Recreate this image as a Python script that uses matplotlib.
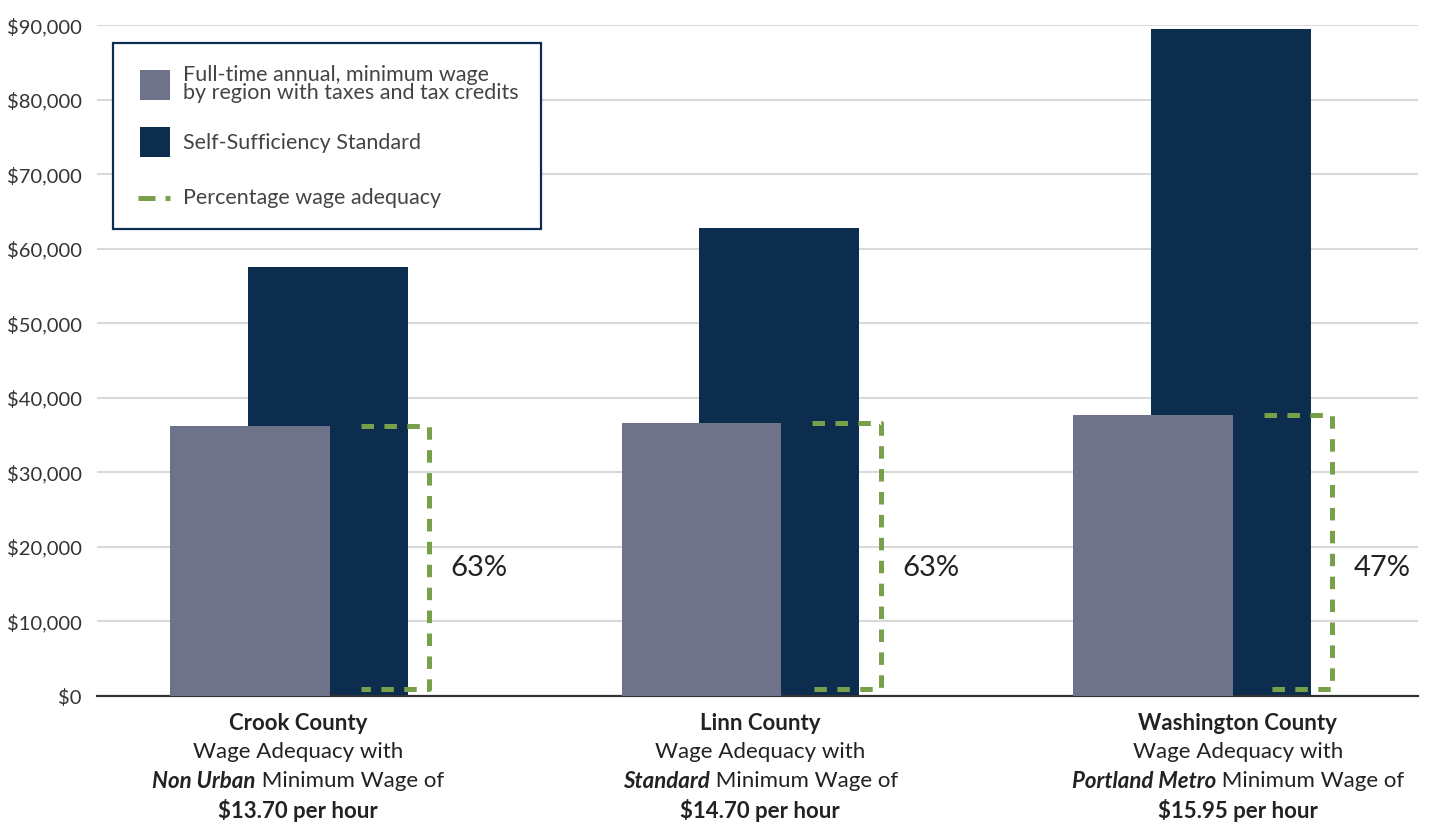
import numpy as np
import matplotlib
matplotlib.use('Agg')
import matplotlib.pyplot as plt
from matplotlib.patches import Rectangle
from matplotlib.lines import Line2D
from matplotlib.ticker import FuncFormatter, MultipleLocator

# data
counties = ['Crook County', 'Linn County', 'Washington County']
region_type = ['Non Urban', 'Standard', 'Portland Metro']
hourly_wage = ['$13.70 per hour', '$14.70 per hour', '$15.95 per hour']
min_wage_annual = [36200, 36600, 37700]
self_sufficiency = [57600, 62800, 89500]
adequacy_labels = ['63%', '63%', '47%']

GRAY = '#6e7389'
NAVY = '#0c2d4e'
GREEN = '#78a04b'
TXT = '#333333'

plt.rcParams['font.family'] = ['Lato', 'DejaVu Sans']

W, H = 1429, 825
fig = plt.figure(figsize=(W / 100, H / 100), dpi=100)


def px(x, y):
    return x / W, 1 - y / H


ax = fig.add_axes([97 / W, 1 - 696 / H, (1418 - 97) / W, (696 - 25.3) / H])

x = np.arange(len(counties))
bw = 0.354
off = 0.172
lw_br = 3.6
dash = (0, (9.0 / lw_br, 7.5 / lw_br))

ax.bar(x + off, self_sufficiency, width=bw, color=NAVY, zorder=2)
ax.bar(x, min_wage_annual, width=bw, color=GRAY, zorder=3)

# wage adequacy brackets
for i in range(len(x)):
    xl = x[i] + off + 0.073
    xr = x[i] + off + 0.225
    top = min_wage_annual[i]
    bot = 1000
    ax.plot([xl, xr, xr, xl], [top, top, bot, bot], color=GREEN, lw=lw_br,
            linestyle=dash, dash_capstyle='butt', zorder=4)
    ax.text(x[i] + off + 0.272, 17200, adequacy_labels[i], fontsize=21,
            color='#222222', va='center', ha='left')

ax.set_xlim(-0.339, 2.587)
ax.set_ylim(0, 90000)
ax.yaxis.set_major_locator(MultipleLocator(10000))
ax.yaxis.set_major_formatter(FuncFormatter(lambda v, p: '${:,.0f}'.format(v)))
ax.grid(axis='y', color='#d9d9d9', lw=1.5, zorder=0)
ax.set_axisbelow(True)
for s in ['left', 'right', 'top']:
    ax.spines[s].set_visible(False)
ax.spines['bottom'].set_color('#333333')
ax.spines['bottom'].set_linewidth(1.6)
ax.set_xticks([])
ax.tick_params(axis='y', length=0, pad=11, labelsize=14.5, labelcolor=TXT)

# category labels under the axis
label_x = [0.106, 1.13, 2.188]
fig.canvas.draw()
r = fig.canvas.get_renderer()
fs = 16
for i in range(len(counties)):
    cx = ax.transData.transform((label_x[i], 0))[0]
    fig.text(cx / W, px(0, 724)[1], counties[i], fontsize=fs, fontweight='bold',
             color='#222222', ha='center', va='center')
    fig.text(cx / W, px(0, 752)[1], 'Wage Adequacy with', fontsize=fs,
             color='#222222', ha='center', va='center')
    t1 = fig.text(0, px(0, 781)[1], region_type[i], fontsize=fs, fontweight='bold',
                  style='italic', color='#222222', ha='left', va='center')
    t2 = fig.text(0, px(0, 781)[1], ' Minimum Wage of', fontsize=fs,
                  color='#222222', ha='left', va='center')
    w1 = t1.get_window_extent(r).width
    w2 = t2.get_window_extent(r).width
    left = cx - (w1 + w2) / 2
    t1.set_x(left / W)
    t2.set_x((left + w1) / W)
    fig.text(cx / W, px(0, 810)[1], hourly_wage[i], fontsize=fs, fontweight='bold',
             color='#222222', ha='center', va='center')

# legend box
x0, y0 = px(113, 229)
x1, y1 = px(541, 43)
fig.patches.append(Rectangle((x0, y0), x1 - x0, y1 - y0, transform=fig.transFigure,
                             facecolor='white', edgecolor=NAVY, lw=1.6, zorder=5))
for (yy, col) in [(70, GRAY), (127, NAVY)]:
    a, b = px(140, yy + 30)
    fig.patches.append(Rectangle((a, b), 30 / W, 30 / H, transform=fig.transFigure,
                                 facecolor=col, edgecolor='none', zorder=6))
for (xa, xb) in [(138, 155), (165, 170)]:
    fig.lines.append(Line2D([px(xa, 0)[0], px(xb, 0)[0]], [px(0, 198)[1]] * 2,
                            transform=fig.transFigure, color=GREEN, lw=lw_br,
                            solid_capstyle='butt', zorder=6))
leg_fs = 15.5
LEG = '#444444'
fig.text(px(183, 0)[0], px(0, 84)[1], 'Full-time annual, minimum wage\nby region with taxes and tax credits',
         fontsize=leg_fs, color=LEG, ha='left', va='center', linespacing=0.85, zorder=7)
fig.text(px(183, 0)[0], px(0, 143)[1], 'Self-Sufficiency Standard',
         fontsize=leg_fs, color=LEG, ha='left', va='center', zorder=7)
fig.text(px(183, 0)[0], px(0, 198)[1], 'Percentage wage adequacy',
         fontsize=leg_fs, color=LEG, ha='left', va='center', zorder=7)

fig.savefig('out.png', dpi=100)
